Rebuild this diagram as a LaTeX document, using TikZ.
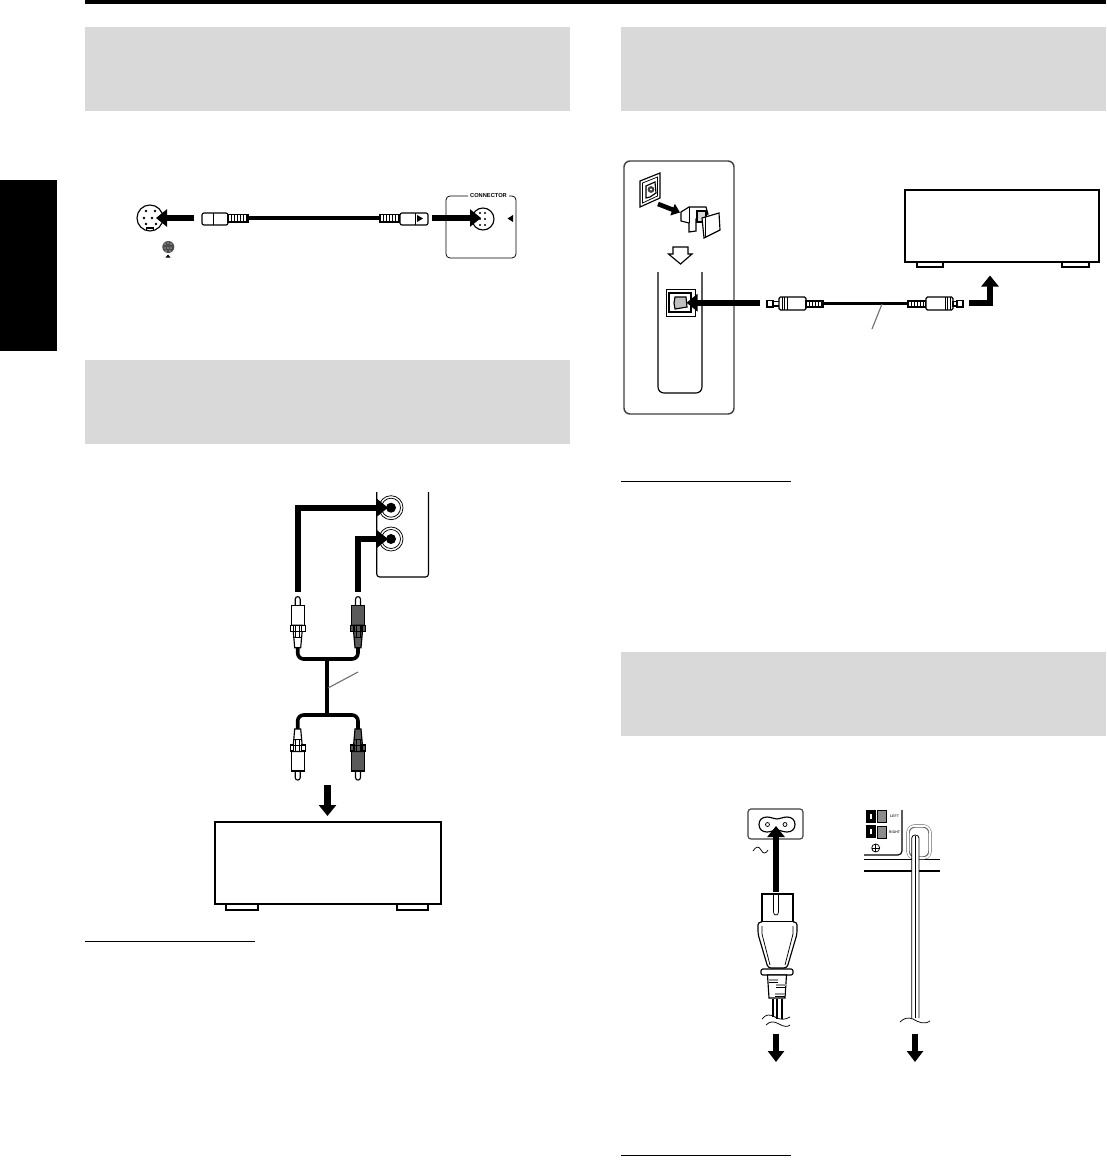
\documentclass[tikz,border=0pt]{standalone}
\usepackage{fontspec}
\setmainfont{Liberation Sans}
\usetikzlibrary{arrows.meta}
\definecolor{band}{HTML}{D9D9D9}
\definecolor{plugdark}{HTML}{5A5A5A}
\definecolor{leader}{HTML}{707070}
\tikzset{
  bandbox/.style={fill=band,draw=none},
  fatarrow/.style={line width=6.2pt,-{Triangle[length=11pt,width=17pt]},black},
  midarrow/.style={line width=5.4pt,-{Triangle[length=11pt,width=17pt]},black},
  cable/.style={line width=3.6pt,black,rounded corners=6pt},
  ln/.style={line width=1.15pt,black},
  thin ln/.style={line width=0.75pt,black},
  unit/.style={line width=2pt,black,fill=white},
  leaderline/.style={line width=1.1pt,leader},
  tinytext/.style={inner sep=0pt,font=\bfseries\fontsize{5.7}{6}\selectfont},
  micro/.style={inner sep=0pt,font=\bfseries\fontsize{3.6}{4}\selectfont,text=black!75},
}
\newcommand{\rcaplug}[4]{% x, y (tip), fill, yscale
  \begin{scope}[shift={(#1,#2)},yscale=#4]
    \draw[ln,fill=white] (-2.5,9) -- (-2.5,2.5) .. controls (-2.5,0.5) and (-1,0) .. (0,0) .. controls (1,0) and (2.5,0.5) .. (2.5,2.5) -- (2.5,9) -- cycle;
    \draw[ln,fill=#3] (-6.5,9) -- (6.5,9) -- (6.5,28.5) -- (-6.5,28.5) -- cycle;
    \draw[ln,fill=#3] (-5,28.5) -- (5,28.5) -- (3,51) -- (-3,51) -- cycle;
    \draw[ln,fill=#3] (-7.5,29) rectangle (-4,35);
    \draw[ln,fill=#3] (4,29) rectangle (7.5,35);
    \draw[thin ln] (-5,35) -- (5,35) (-4,41) -- (4,41);
    \draw[thin ln] (-2,28.5) -- (-2,41) (2,28.5) -- (2,41);
  \end{scope}}
\begin{document}
\begin{tikzpicture}[x=1pt,y=-1pt]
\useasboundingbox (0,0) rectangle (1106,1162);
\fill[white] (0,0) rectangle (1106,1162);
% page furniture
\fill[black] (85,0) rectangle (1106,4);
\fill[black] (0,180) rectangle (57,351);
\fill[bandbox] (85,27) rectangle (570,111);
\fill[bandbox] (85,360) rectangle (570,444);
\fill[bandbox] (621,27) rectangle (1106,111);
\fill[bandbox] (621,652) rectangle (1106,736);
\draw[thin ln] (85,941) -- (255,941);
\draw[thin ln] (621,481) -- (791,481);
\draw[thin ln] (621,1155) -- (791,1155);

% ---------- DIAGRAM 1
\draw[ln] (150,218) circle[radius=13];
\draw[ln] (146.5,231) -- (146.5,228) -- (153.5,228) -- (153.5,231);
\foreach \a/\b in {146/211,155/211,144/218,152/218,146/224,156/224}
  \fill (\a,\b) circle[radius=1.4];
\fill[black!70] (168.3,247) circle[radius=6];
\foreach \a/\b in {165/244,168/243,171/244,165/248,168/248,171/248,166/251,170/251}{\fill[white] (\a,\b) circle[radius=0.6];}
\fill (165.5,257.5) -- (170.5,257.5) -- (168,254.5) -- cycle;
\coordinate (din1from) at (194,218);
\coordinate (din1to) at (156,218);
\draw[fatarrow] (din1from) -- (din1to);
\draw[ln,fill=white,rounded corners=2pt] (228,213) -- (202,213) -- (202,225) -- (228,225) -- cycle;
\draw[thin ln] (213,213) -- (213,225);
\draw[ln,fill=white] (228,214.5) rectangle (248,222);
\foreach \a in {231,234,237,240,243,246}{\draw[thin ln] (\a,214.5) -- (\a,222);}
\coordinate (c1a) at (248,218.2);
\coordinate (c1b) at (380,218.2);
\draw[line width=3.7pt] (c1a) -- (c1b);
\draw[ln,fill=white] (380,214.5) rectangle (400,222);
\foreach \a in {383,386,389,392,395,398}{\draw[thin ln] (\a,214.5) -- (\a,222);}
\draw[ln,fill=white,rounded corners=2pt] (400,213) -- (428,213) -- (428,225) -- (400,225) -- cycle;
\draw[thin ln] (415,213) -- (415,225);
\fill (417,215) -- (423,218.5) -- (417,222) -- cycle;
\draw[thin ln,rounded corners=4pt] (468,196) -- (446,196) -- (446,258) -- (516,258) -- (516,196) -- (509,196);
\node[tinytext] (connlabel) at (488.5,196) {CONNECTOR};
\draw[ln] (483,219) circle[radius=11];
\foreach \a in {480,485}{\fill (\a,213) circle[radius=1.1];\fill (\a,219) circle[radius=1.1];\fill (\a,225) circle[radius=1.1];}
\coordinate (din2from) at (432,218);
\coordinate (din2to) at (481,218);
\draw[fatarrow] (din2from) -- (din2to);
\fill (513,215) -- (513,222) -- (507.5,218.5) -- cycle;

% ---------- DIAGRAM 2
\draw[ln,rounded corners=3pt] (376.7,492) -- (376.7,577) -- (428.5,577) -- (428.5,492);
\foreach \a/\b in {391/507.7,391/539}{
  \draw[thin ln,fill=white] (\a,\b) circle[radius=12];
  \draw[thin ln] (\a,\b) circle[radius=9.5];
  \fill (\a,\b) circle[radius=5];
}
\coordinate (ra0) at (297.7,591.5);
\coordinate (ra1) at (297.7,507.7);
\coordinate (ra2) at (388,507.7);
\draw[fatarrow,line join=miter] (ra0) -- (ra1) -- (ra2);
\coordinate (rb0) at (358,592);
\coordinate (rb1) at (358,539);
\coordinate (rb2) at (388,539);
\draw[midarrow,line join=miter] (rb0) -- (rb1) -- (rb2);
\coordinate (y1) at (297.7,645);
\coordinate (y2) at (297.7,659);
\coordinate (y3) at (358,659);
\coordinate (y4) at (358,645);
\draw[cable] (y1) -- (y2) -- (y3) -- (y4);
\coordinate (s1) at (326.7,659);
\coordinate (s2) at (326.7,715);
\draw[line width=3.7pt] (s1) -- (s2);
\coordinate (z1) at (297.7,730);
\coordinate (z2) at (297.7,715);
\coordinate (z3) at (358,715);
\coordinate (z4) at (358,730);
\draw[cable] (z1) -- (z2) -- (z3) -- (z4);
\rcaplug{297.7}{596.7}{white}{1}
\rcaplug{358}{596.7}{plugdark}{1}
\rcaplug{297.7}{780}{white}{-1}
\rcaplug{358}{780}{plugdark}{-1}
\coordinate (l1a) at (328,688);
\coordinate (l1b) at (358,672);
\draw[leaderline] (l1a) -- (l1b);
\coordinate (dn1a) at (327.5,785);
\coordinate (dn1b) at (327.5,816);
\draw[fatarrow] (dn1a) -- (dn1b);
\draw[unit] (226,904) rectangle (258,910);
\draw[unit] (397,904) rectangle (428,910);
\draw[unit] (215,822) rectangle (441,904);

% ---------- DIAGRAM 3
\draw[line width=1.4pt,black!75,rounded corners=6pt] (624,161) rectangle (734,414);
\draw[ln,fill=white] (640,181) -- (660,173) -- (660,198) -- (640,207) -- cycle;
\draw[thin ln] (642.5,183) -- (657.5,177) -- (657.5,196) -- (642.5,203) -- cycle;
\draw[ln,fill=white] (646,186) -- (655,182) -- (656,193) -- (650,197) -- (646,198) -- cycle;
\fill[black!75] (651,189.5) circle[radius=3.4];
\fill[white] (651,189.5) circle[radius=1.2];
\coordinate (s3a) at (658,204);
\coordinate (s3b) at (680,212.5);
\draw[line width=4.6pt,-{Triangle[length=8pt,width=12pt]}] (s3a) -- (s3b);
% dust cap
\draw[ln,fill=white] (681,212) -- (689,207) -- (706,207) -- (708,214) -- (696,219) -- (696,231) -- (689,232) -- (689,223) -- (681,221) -- cycle;
\draw[thin ln] (689,207) -- (689,223);
\draw[ln,fill=black!15] (697,211) rectangle (706,222);
\draw[ln,fill=white] (702,218) -- (719,213) -- (720,230) -- (704,238) -- cycle;
\draw[thin ln] (705,217) -- (705,237);
\draw[ln,fill=white,line join=miter] (673,247) -- (688,247) -- (688,254) -- (692,254) -- (680.5,264) -- (668.5,254) -- (673,254) -- cycle;
\draw[ln,rounded corners=6pt] (658,272) -- (658,393) -- (702,393) -- (702,272);
\draw[thin ln,fill=white] (666,289) rectangle (695,316);
\draw[line width=1.5pt,fill=white] (669,293) rectangle (691,312);
\draw[ln,fill=black!25] (675,297) -- (686,297) -- (687,307) -- (675,309) -- (674,303) -- cycle;
\coordinate (opt1) at (760,302.7);
\coordinate (opt2) at (686.5,302.7);
\draw[fatarrow] (opt1) -- (opt2);
\draw[ln,fill=white] (767,300.5) rectangle (773,307);
\draw[ln,fill=white] (773,301.5) rectangle (780,306);
\draw[ln,fill=white,rounded corners=1.5pt] (779,297) rectangle (806,310);
\foreach \a in {782,784.5,787}{\draw[thin ln] (\a,297) -- (\a,310);}
\draw[ln,fill=white] (806,301) rectangle (823,307);
\foreach \a in {809,812,815,818,821}{\draw[thin ln] (\a,301) -- (\a,307);}
\coordinate (op1) at (823,303.5);
\coordinate (op2) at (908,303.5);
\draw[line width=3.3pt] (op1) -- (op2);
\draw[ln,fill=white] (908,301) rectangle (926,307);
\foreach \a in {911,914,917,920,923}{\draw[thin ln] (\a,301) -- (\a,307);}
\draw[ln,fill=white,rounded corners=1.5pt] (926,297) rectangle (953,310);
\foreach \a in {945,947.5,950}{\draw[thin ln] (\a,297) -- (\a,310);}
\draw[ln,fill=white] (953,301.5) rectangle (957,306);
\draw[ln,fill=white] (957,300.5) rectangle (963,307);
\coordinate (l2a) at (882,304);
\coordinate (l2b) at (872,329);
\draw[leaderline] (l2a) -- (l2b);
\coordinate (up1) at (969,303);
\coordinate (up2) at (990,303);
\coordinate (up3) at (990,275.5);
\draw[fatarrow,line join=miter] (up1) -- (up2) -- (up3);
\draw[unit] (917,262) rectangle (943,267);
\draw[unit] (1062,262) rectangle (1089,267);
\draw[unit] (905,190) rectangle (1099,262);

% ---------- DIAGRAM 4: mains plug
\draw[ln,rounded corners=3pt,draw=black!75] (748,809) rectangle (803,839);
\draw[ln] (767,817) .. controls (762,817) and (759,820) .. (759,824.5) .. controls (759,829) and (762,832) .. (767,832) .. controls (771,832) and (774,830) .. (777,830) .. controls (780,830) and (783,832) .. (787,832) .. controls (792,832) and (795,829) .. (795,824.5) .. controls (795,820) and (792,817) .. (787,817) .. controls (783,817) and (780,819) .. (777,819) .. controls (774,819) and (771,817) .. (767,817) -- cycle;
\draw[thin ln] (767.5,824.5) circle[radius=2];
\draw[thin ln] (785,824.5) circle[radius=2];
\draw[thin ln] (753,851) .. controls (756,846) and (759,846) .. (761,850) .. controls (763,854) and (766,854) .. (768,850);
\coordinate (pa) at (776,892);
\coordinate (pb) at (776,826);
\draw[fatarrow] (pa) -- (pb);
\draw[ln,fill=white] (762,894) -- (793,894) -- (793,922) -- (762,922) -- cycle;
\draw[thin ln] (773.5,894) -- (773.5,912) .. controls (773.5,916) and (778.5,916) .. (778.5,912) -- (778.5,894);
\draw[ln,fill=white,rounded corners=3pt] (762,922) -- (758,922) -- (758,934) -- (768,968) -- (787,968) -- (797,934) -- (797,922) -- (793,922);
\draw[thin ln] (762,926) -- (762,934) -- (770,965);
\draw[thin ln] (793,926) -- (793,934) -- (785,965);
\draw[ln,fill=white,rounded corners=2pt] (761,969) rectangle (793,975);
\draw[ln,fill=white] (767.5,975) -- (786.5,975) -- (785,998) -- (769,998) -- cycle;
\draw[line width=1.6pt,black!40] (769,980) -- (778,980) (776,985) -- (786,985) (775,994) -- (785,994);
\draw[thin ln] (769,982) -- (778,982) (776,987) -- (786,987) (775,996) -- (785,996);
\draw[ln] (773,999) -- (773,1017) (777,999) -- (777,1019) (782,999) -- (782,1019);
\draw[thin ln] (762,1019) .. controls (766,1014) and (770,1014) .. (775,1017) .. controls (780,1020) and (785,1020) .. (790,1017);
\draw[thin ln] (766,1025) .. controls (770,1021) and (774,1021) .. (779,1024) .. controls (784,1027) and (788,1027) .. (790,1025);
\coordinate (qa) at (776,1034);
\coordinate (qb) at (776,1062);
\draw[fatarrow,-{Triangle[length=11pt,width=16pt]}] (qa) -- (qb);

% ---------- DIAGRAM 4: speaker lead
\draw[ln,rounded corners=4pt] (902,810) -- (902,855) -- (864,855);
\draw[line width=1pt] (864,859) -- (940,859);
\draw[line width=2.4pt] (864,871) -- (940,871);
\draw[ln,fill=white] (867,811) rectangle (875,822);
\draw[line width=1.3pt] (869,813) rectangle (873,820);
\draw[ln,fill=white] (867,826) rectangle (875,837);
\draw[line width=1.3pt] (869,828) rectangle (873,835);
\draw[thin ln,fill=black!45] (877,810) rectangle (886,822);
\draw[thin ln,fill=black!45] (877,826) rectangle (886,838);
\node[micro] (leftlabel) at (894.5,816) {LEFT};
\node[micro] (rightlabel) at (894.5,832) {RIGHT};
\draw[thin ln] (875.7,848) circle[radius=4];
\draw[thin ln] (871.7,848) -- (879.7,848) (875.7,844) -- (875.7,852);
\draw[line width=3.4pt,black!60,rounded corners=7pt] (908,826) rectangle (930,858);
\draw[line width=1.8pt,white,rounded corners=6pt] (908,826) rectangle (930,858);
\fill[white] (911.7,835) rectangle (919,1018);
\draw[thin ln] (911.7,1018) -- (911.7,838) .. controls (911.7,834) and (919,834) .. (919,838) -- (919,1018);
\draw[thin ln] (915.3,836) -- (915.3,1018);
\draw[thin ln] (900,1022) .. controls (904,1018) and (908,1017) .. (913,1019) .. controls (918,1022) and (924,1025) .. (930,1021);
\coordinate (ra) at (915,1034);
\coordinate (rb) at (915,1062);
\draw[fatarrow,-{Triangle[length=11pt,width=16pt]}] (ra) -- (rb);
\end{tikzpicture}
\end{document}
